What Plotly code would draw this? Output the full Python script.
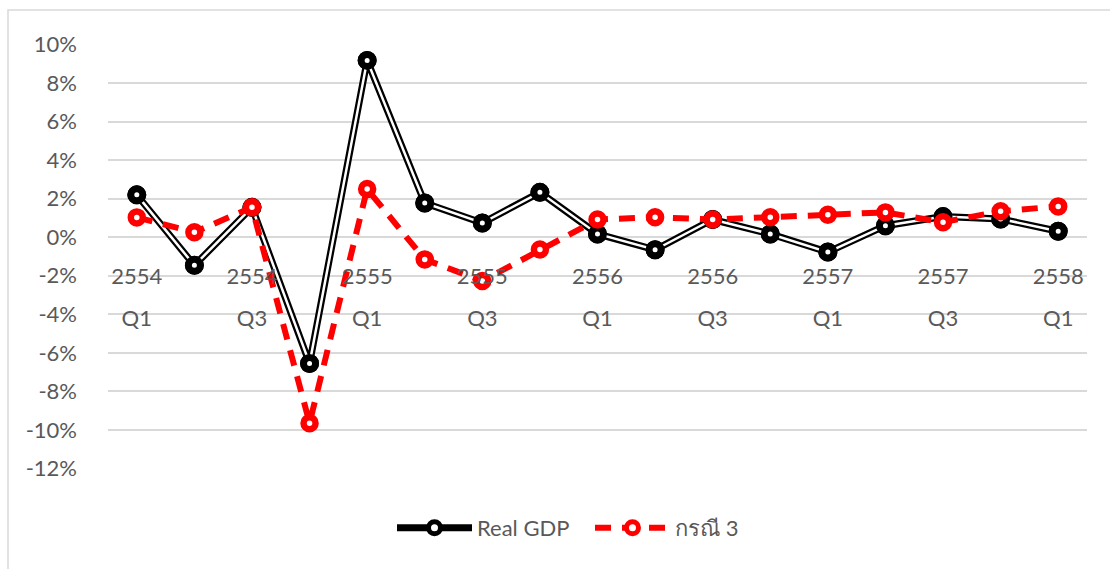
import plotly.graph_objects as go

# ---- data ----
years = ["2554", "2554", "2554", "2554", "2555", "2555", "2555", "2555",
         "2556", "2556", "2556", "2556", "2557", "2557", "2557", "2557", "2558"]
quarters = ["Q1", "Q2", "Q3", "Q4", "Q1", "Q2", "Q3", "Q4",
            "Q1", "Q2", "Q3", "Q4", "Q1", "Q2", "Q3", "Q4", "Q1"]
categories = [f"{y} {q}" for y, q in zip(years, quarters)]

real_gdp = [2.2, -1.46, 1.55, -6.55, 9.18, 1.78, 0.74, 2.33,
            0.17, -0.65, 0.92, 0.17, -0.77, 0.6, 1.07, 0.95, 0.31]
case3 = [1.03, 0.26, 1.55, -9.65, 2.5, -1.15, -2.27, -0.64,
         0.92, 1.04, 0.92, 1.04, 1.17, 1.29, 0.78, 1.35, 1.6]

y_tickvals = [10, 8, 6, 4, 2, 0, -2, -4, -6, -8, -10, -12]
y_ticktext = ["10%", "8%", "6%", "4%", "2%", "0%", "-2%", "-4%", "-6%", "-8%", "-10%", "-12%"]

label_idx = list(range(0, len(categories), 2))

FONT = "Lato, 'Noto Sans', sans-serif"
TXT = "#595959"
GRID = "#D9D9D9"
FS = 22

fig = go.Figure()

# Real GDP: black outer line with white inner core (double line)
fig.add_trace(go.Scatter(x=categories, y=real_gdp, mode="lines+markers", name="Real GDP",
                         line=dict(color="#000000", width=7),
                         marker=dict(size=12, color="white", line=dict(color="#000000", width=7))))
fig.add_trace(go.Scatter(x=categories, y=real_gdp, mode="lines", showlegend=False,
                         hoverinfo="skip", line=dict(color="white", width=2.5)))
fig.add_trace(go.Scatter(x=categories, y=real_gdp, mode="markers", showlegend=False,
                         hoverinfo="skip",
                         marker=dict(size=12, color="white", line=dict(color="#000000", width=7))))

# กรณี 3: red dashed line
fig.add_trace(go.Scatter(x=categories, y=case3, mode="lines+markers", name="กรณี 3",
                         line=dict(color="#FF0000", width=6, dash="16px,11px"),
                         marker=dict(size=12, color="white", line=dict(color="#FF0000", width=6.5))))

# plot area geometry (pixels)
W, H = 1110, 569
L, R, T, B = 108, 23, 44, 100
pw = W - L - R
ph = H - T - B
zero_frac = 12 / 22

fig.update_layout(
    width=W, height=H,
    margin=dict(l=L, r=R, t=T, b=B),
    paper_bgcolor="white", plot_bgcolor="white",
    font=dict(family=FONT, color=TXT, size=FS),
    showlegend=True,
    legend=dict(orientation="h", x=(392 - L) / pw, y=(469 - 528) / ph, xanchor="left", yanchor="middle",
                font=dict(size=FS, color=TXT), bgcolor="rgba(0,0,0,0)",
                itemwidth=75, entrywidth=108, tracegroupgap=0),
    xaxis=dict(type="category", anchor="free", position=zero_frac,
               range=[-0.5, len(categories) - 0.5],
               showgrid=False, zeroline=False, showline=False, ticks="",
               tickmode="array", tickvals=[categories[i] for i in label_idx],
               ticktext=[years[i] for i in label_idx],
               ticklabelstandoff=24, tickfont=dict(size=FS, color=TXT)),
    xaxis2=dict(type="category", anchor="free", position=zero_frac, overlaying="x", matches="x",
                showgrid=False, zeroline=False, showline=False, ticks="",
                tickmode="array", tickvals=[categories[i] for i in label_idx],
                ticktext=[quarters[i] for i in label_idx],
                ticklabelstandoff=66, tickfont=dict(size=FS, color=TXT)),
    yaxis=dict(range=[-12.03, 10.03], tickmode="array", tickvals=y_tickvals, ticktext=y_ticktext,
               showgrid=True, gridcolor=GRID, gridwidth=1.5, zeroline=False, showline=False,
               ticks="", ticklabelstandoff=30, tickfont=dict(size=FS, color=TXT)),
    shapes=[dict(type="rect", xref="paper", yref="paper",
                 x0=(8 - L) / pw, x1=1.1, y0=-0.4, y1=(469 - 10) / ph,
                 line=dict(color=GRID, width=1.5), fillcolor="rgba(0,0,0,0)", layer="below")],
)

# dummy trace to activate xaxis2 labels
fig.add_trace(go.Scatter(x=categories, y=[None] * len(categories), xaxis="x2",
                         showlegend=False, hoverinfo="skip"))

fig.write_html("out.html")
